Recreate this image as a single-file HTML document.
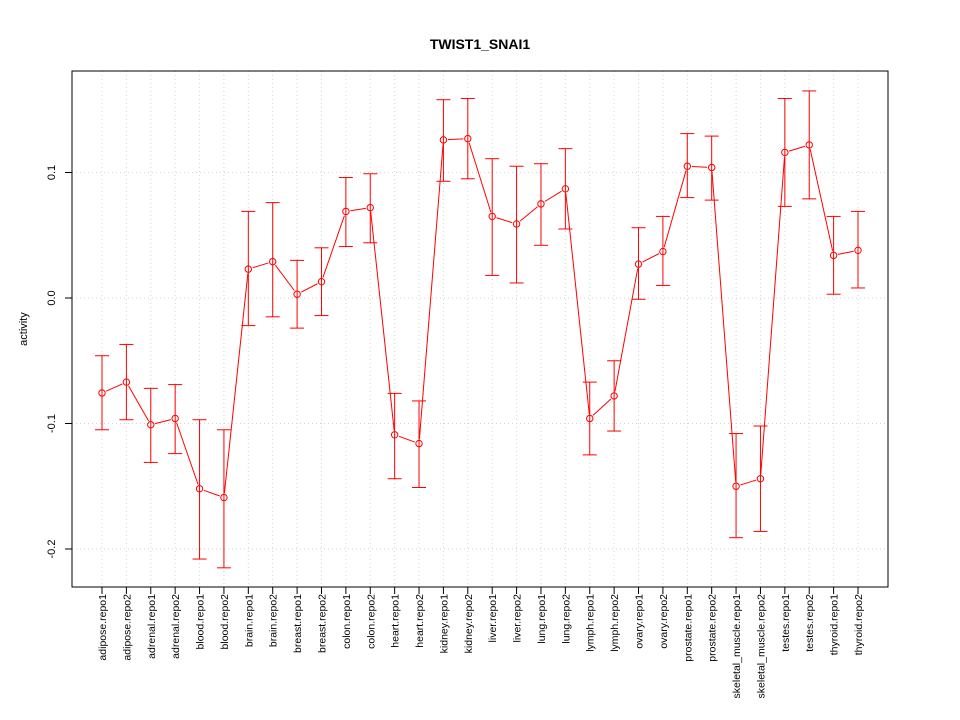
<!DOCTYPE html>
<html><head><meta charset="utf-8"><style>
body{margin:0;background:#fff}
svg{display:block;font-family:"Liberation Sans",sans-serif}
</style></head><body>
<svg id="c" width="960" height="720"></svg>
<script>
const categories=["adipose.repo1","adipose.repo2","adrenal.repo1","adrenal.repo2","blood.repo1","blood.repo2","brain.repo1","brain.repo2","breast.repo1","breast.repo2","colon.repo1","colon.repo2","heart.repo1","heart.repo2","kidney.repo1","kidney.repo2","liver.repo1","liver.repo2","lung.repo1","lung.repo2","lymph.repo1","lymph.repo2","ovary.repo1","ovary.repo2","prostate.repo1","prostate.repo2","skeletal_muscle.repo1","skeletal_muscle.repo2","testes.repo1","testes.repo2","thyroid.repo1","thyroid.repo2"];
const values=[-0.0757,-0.067,-0.101,-0.096,-0.152,-0.159,0.023,0.029,0.003,0.013,0.069,0.072,-0.109,-0.116,0.126,0.127,0.065,0.059,0.075,0.087,-0.096,-0.078,0.027,0.037,0.105,0.104,-0.150,-0.144,0.116,0.122,0.034,0.038];
const upper=[-0.046,-0.037,-0.072,-0.069,-0.097,-0.105,0.069,0.076,0.030,0.040,0.096,0.099,-0.076,-0.082,0.158,0.159,0.111,0.105,0.107,0.119,-0.067,-0.050,0.056,0.065,0.131,0.129,-0.108,-0.102,0.159,0.165,0.065,0.069];
const lower=[-0.105,-0.097,-0.131,-0.124,-0.208,-0.215,-0.022,-0.015,-0.024,-0.014,0.041,0.044,-0.144,-0.151,0.093,0.095,0.018,0.012,0.042,0.055,-0.125,-0.106,-0.001,0.010,0.080,0.078,-0.191,-0.186,0.073,0.079,0.003,0.008];
const yTicks=[0.1,0.0,-0.1,-0.2];
const yTickLabels=["0.1","0.0","-0.1","-0.2"];

const svg=document.getElementById('c');
const NS="http://www.w3.org/2000/svg";
function mk(t,a,p){const e=document.createElementNS(NS,t);for(const k in a)e.setAttribute(k,a[k]);(p||svg).appendChild(e);return e;}
const L=72,R=888,T=71,B=587;
const n=categories.length;
const x0=102,x1=858;
function xs(i){return x0+(x1-x0)*i/(n-1);}
function ys(v){return 298-v*1255;}

for(let i=0;i<n;i++){const g=mk('line',{x1:xs(i),x2:xs(i),y1:T,y2:B,stroke:'#d3d3d3','stroke-dasharray':'1,3'});

}
yTicks.forEach(v=>{const g=mk('line',{x1:L,x2:R,y1:ys(v),y2:ys(v),stroke:'#d3d3d3','stroke-dasharray':'1,3'});

});

const fr=mk('rect',{x:L,y:T,width:R-L,height:B-T,fill:'none',stroke:'#000'});



yTicks.forEach((v,i)=>{mk('line',{x1:L-7,x2:L,y1:ys(v),y2:ys(v),stroke:'#000'});
const t=mk('text',{x:0,y:0,'font-size':11,'text-anchor':'middle',transform:`translate(55,${ys(v)}) rotate(-90)`});
t.textContent=yTickLabels[i];

});

categories.forEach((c,i)=>{mk('line',{x1:xs(i),x2:xs(i),y1:B,y2:B+7,stroke:'#000'});
const t=mk('text',{x:0,y:0,'font-size':10.5,'text-anchor':'end',transform:`translate(${xs(i)+4},594) rotate(-90)`});
t.textContent=c;

});

categories.forEach((c,i)=>{const x=xs(i);
const g=mk('g',{stroke:'#ff0000','stroke-width':1});


mk('line',{x1:x,x2:x,y1:ys(upper[i]),y2:ys(lower[i])},g);
mk('line',{x1:x-7,x2:x+7,y1:ys(upper[i]),y2:ys(upper[i])},g);
mk('line',{x1:x-7,x2:x+7,y1:ys(lower[i]),y2:ys(lower[i])},g);});

// line segments with gaps around points (type="b")
const lg=mk('g',{stroke:'#ff0000','stroke-width':1});


for(let i=0;i<n-1;i++){
  const ax=xs(i),ay=ys(values[i]),bx=xs(i+1),by=ys(values[i+1]);
  const dx=bx-ax,dy=by-ay,d=Math.hypot(dx,dy),g=4.5;
  if(d>2*g) mk('line',{x1:ax+dx/d*g,y1:ay+dy/d*g,x2:bx-dx/d*g,y2:by-dy/d*g},lg);
}
values.forEach((v,i)=>{const p=mk('circle',{cx:xs(i),cy:ys(v),r:3.2,fill:'none',stroke:'#ff0000'});

});

const tt=mk('text',{x:480,y:49,'font-size':14,'font-weight':'bold','text-anchor':'middle'});
tt.textContent='TWIST1_SNAI1';


const yl=mk('text',{x:0,y:0,'font-size':11,'text-anchor':'middle',transform:'translate(27,329) rotate(-90)'});
yl.textContent='activity';


</script>
</body></html>
